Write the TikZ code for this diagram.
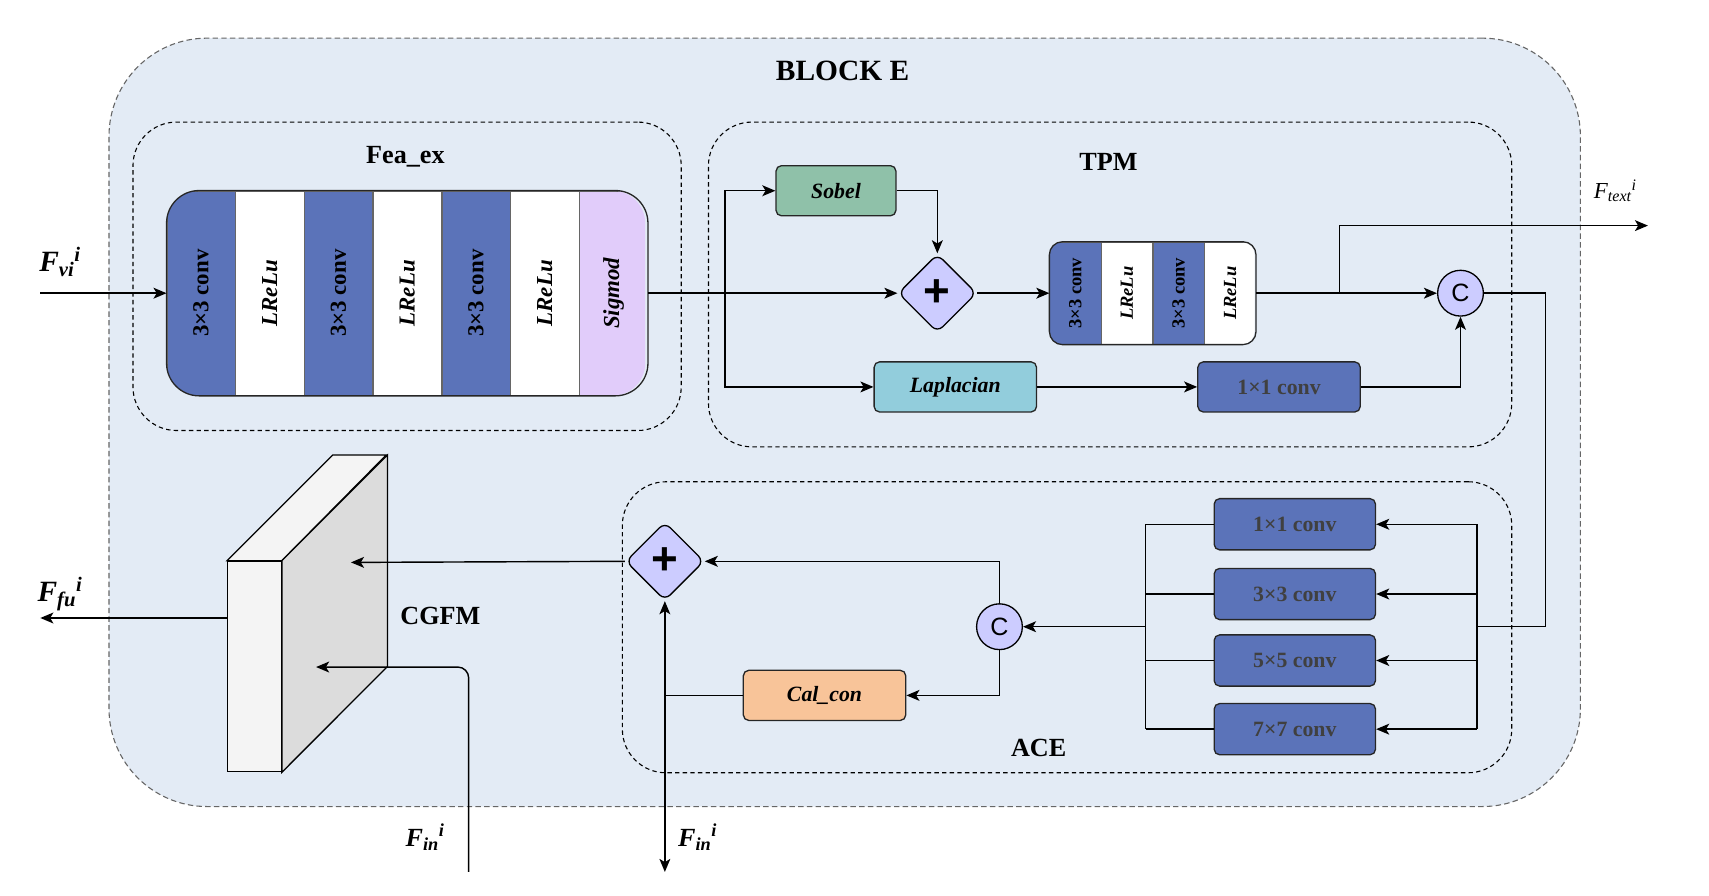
\documentclass[tikz,border=0pt]{standalone}
\usepackage{graphicx}
\usepackage{fontspec}
\setmainfont{Liberation Serif}
\newfontfamily\sansC{Liberation Sans}
\usetikzlibrary{arrows.meta, positioning, calc, shapes.geometric}

\definecolor{bgblue}{HTML}{E3EBF5}
\definecolor{convblue}{HTML}{5B73B9}
\definecolor{sigfill}{HTML}{E1CCFA}
\definecolor{opfill}{HTML}{CCCCFF}
\definecolor{sobelfill}{HTML}{8FC1A9}
\definecolor{lapfill}{HTML}{92CDDC}
\definecolor{calfill}{HTML}{F8C499}
\definecolor{slabfront}{HTML}{F4F4F4}
\definecolor{slabside}{HTML}{DCDCDC}

\tikzset{
    box/.style={draw=black!85, line width=1.2pt, rounded corners=5pt, minimum width=149pt, minimum height=46pt, font=\fontsize{20}{22}\selectfont\bfseries\itshape},
    convbox/.style={box, fill=convblue, text=black!75, font=\fontsize{20}{22}\selectfont\bfseries},
    strip/.style={draw=black!60, thin, minimum width=62.7pt, minimum height=188pt, inner sep=0pt, font=\fontsize{21}{23}\selectfont\bfseries},
    tstrip/.style={draw=black!60, thin, minimum width=47pt, minimum height=94pt, inner sep=0pt, font=\fontsize{17}{19}\selectfont\bfseries},
    addop/.style={diamond, draw=black, line width=1.2pt, fill=opfill, rounded corners=7pt, minimum width=72pt, minimum height=72pt, inner sep=0pt, font=\sansC\fontsize{42}{42}\selectfont\bfseries},
    catop/.style={circle, draw=black, line width=1.2pt, fill=opfill, minimum size=42pt, inner sep=0pt, font=\sansC\fontsize{23}{23}\selectfont},
    area/.style={draw=black, line width=1pt, dash pattern=on 4pt off 3pt, rounded corners=40pt},
    title/.style={font=\fontsize{24}{26}\selectfont\bfseries},
    flabel/.style={font=\fontsize{27}{29}\selectfont\bfseries\itshape}
}

\begin{document}
\begin{tikzpicture}[
    x=1pt, y=-1pt,
    flow/.style={-{Stealth[length=12pt, width=10pt, inset=3pt]}, line width=1.3pt},
    wire/.style={line width=1.3pt}
]
  \useasboundingbox (0,0) rectangle (1568,822);

  % containers
  \node[draw=black!60, fill=bgblue, line width=1pt, dash pattern=on 5pt off 3pt, rounded corners=90pt, minimum width=1350pt, minimum height=705pt] (blocke) at (775,387.5) {};
  \node[area, minimum width=503pt, minimum height=283pt] (feaex) at (373.5,253.5) {};
  \node[area, minimum width=737pt, minimum height=298pt] (tpm) at (1018.5,261) {};
  \node[area, minimum width=816pt, minimum height=267pt] (ace) at (979,575.5) {};

  \node[font=\fontsize{27}{29}\selectfont\bfseries] (blockelab) at (773,65) {BLOCK E};
  \node[title] (feaexlab) at (372,144) {Fea\_ex};
  \node[title] (tpmlab) at (1017,149) {TPM};
  \node[title] (acelab) at (953,686) {ACE};
  \node[title] (cgfmlab) at (404,565) {CGFM};

  % Fea_ex layers
  \begin{scope}
    \clip[rounded corners=30pt] (153,175) rectangle (592,363);
    \node[strip, fill=convblue] (fe1) at (184.35,269) {\rotatebox{90}{3×3 conv}};
    \foreach \i/\p/\c/\t in {2/1/white/{\itshape LReLu}, 3/2/convblue/{3×3 conv}, 4/3/white/{\itshape LReLu},
        5/4/convblue/{3×3 conv}, 6/5/white/{\itshape LReLu}, 7/6/sigfill/{\itshape Sigmod}}
      \node[strip, fill=\c, right=0pt of fe\p] (fe\i) {\rotatebox{90}{\t}};
  \end{scope}
  \draw[line width=1.2pt, black!85, rounded corners=30pt] (fe1.north west) rectangle (fe7.south east);

  % TPM
  \node[box, fill=sobelfill, minimum width=110pt] (sobel) at (767,175) {Sobel};
  \node[addop] (plus1) at (860,269) {+};
  \begin{scope}
    \clip[rounded corners=12pt] (963,222) rectangle (1151,316);
    \node[tstrip, fill=convblue] (tp1) at (986.5,269) {\rotatebox{90}{3×3 conv}};
    \foreach \i/\p/\c/\t in {2/1/white/{\itshape LReLu}, 3/2/convblue/{3×3 conv}, 4/3/white/{\itshape LReLu}}
      \node[tstrip, fill=\c, right=0pt of tp\p] (tp\i) {\rotatebox{90}{\t}};
  \end{scope}
  \draw[line width=1.2pt, black!85, rounded corners=12pt] (tp1.north west) rectangle (tp4.south east);
  \node[catop] (c1) at (1340,269) {C};
  \node[box, fill=lapfill] (lap) at (876.5,355) {Laplacian};
  \node[convbox] (tconv) at (1173.5,355) {1×1 conv};

  % ACE
  \foreach \n/\y/\t in {a1/481/1×1, a2/545/3×3, a3/606/5×5, a4/669/7×7}
    \node[convbox, minimum width=148pt, minimum height=47pt] (\n) at (1188,\y) {\t\ conv};
  \node[catop] (c2) at (917,575) {C};
  \node[box, fill=calfill] (calcon) at (756.5,638) {Cal\_con};
  \node[addop] (plus2) at (610,515) {+};

  % CGFM slab
  \node[draw=black, line width=1.2pt, fill=slabfront, minimum width=49pt, minimum height=193pt] (cgfront) at (233.5,611.5) {};
  \draw[line width=1.2pt, fill=slabfront] (cgfront.north west) -- ++(97,-97) -- ++(49,0) -- (cgfront.north east) -- cycle;
  \draw[line width=1.2pt, fill=slabside] (cgfront.north east) -- ++(97,-97) -- ++(0,194) -- (cgfront.south east) -- cycle;

  % coordinates
  \coordinate (fvi) at (37,269);
  \coordinate (br1) at (665,269);
  \coordinate (br2) at (1229,269);
  \coordinate (ftext) at (1512,207);
  \coordinate (turn1) at (1418,575);
  \coordinate (rbus) at (1355,575);
  \coordinate (lbus) at (1051,575);
  \coordinate (fin1) at (430,800);
  \coordinate (fin2) at (610,800);
  \coordinate (cgin1) at (322,516);
  \coordinate (cgin2) at (290,612);
  \coordinate (ffu) at (37,567);

  % labels
  \node[flabel] (fvilab) at (55,240) {F\textsubscript{vi}\textsuperscript{i}};
  \node[flabel] (ffulab) at (55,545) {F\textsubscript{fu}\textsuperscript{i}};
  \node[font=\fontsize{21}{23}\selectfont\itshape] (ftextlab) at (1482,175) {F\textsubscript{text}\textsuperscript{i}};
  \node[flabel, font=\fontsize{24}{26}\selectfont\bfseries\itshape] (fin1lab) at (390,768) {F\textsubscript{in}\textsuperscript{i}};
  \node[flabel, font=\fontsize{24}{26}\selectfont\bfseries\itshape] (fin2lab) at (640,768) {F\textsubscript{in}\textsuperscript{i}};

  % connections
  \draw[flow] (fvi) -- (fe1.west);
  \draw[flow] (fe7.east) -- (plus1.west);
  \draw[flow] (br1) |- (sobel.west);
  \draw[flow] (br1) |- (lap.west);
  \draw[flow] (sobel.east) -| (plus1.north);
  \draw[flow] (plus1.east) -- (tp1.west);
  \draw[flow] (tp4.east) -- (c1.west);
  \draw[flow] (br2) |- (ftext);
  \draw[flow] (lap.east) -- (tconv.west);
  \draw[flow] (tconv.east) -| (c1.south);
  \draw[wire] (c1.east) -| (turn1) -- (rbus);
  \draw[wire] (a1.east -| rbus) -- (a4.east -| rbus);
  \draw[wire] (a1.west -| lbus) -- (a4.west -| lbus);
  \foreach \n in {a1,a2,a3,a4} {
    \draw[flow] (\n.east -| rbus) -- (\n.east);
    \draw[wire] (\n.west) -- (\n.west -| lbus);
  }
  \draw[flow] (lbus) -- (c2.east);
  \draw[flow] (c2.north) |- (plus2.east);
  \draw[flow] (c2.south) |- (calcon.east);
  \draw[wire] (calcon.west) -- (calcon.west -| plus2.south);
  \draw[{Stealth[length=12pt, width=10pt, inset=3pt]}-{Stealth[length=12pt, width=10pt, inset=3pt]}, line width=1.3pt] (plus2.south) -- (fin2);
  \draw[flow] (plus2.west) -- (cgin1);
  \draw[flow, rounded corners=10pt] (fin1) |- (cgin2);
  \draw[flow] (cgfront.west |- ffu) -- (ffu);
\end{tikzpicture}
\end{document}
